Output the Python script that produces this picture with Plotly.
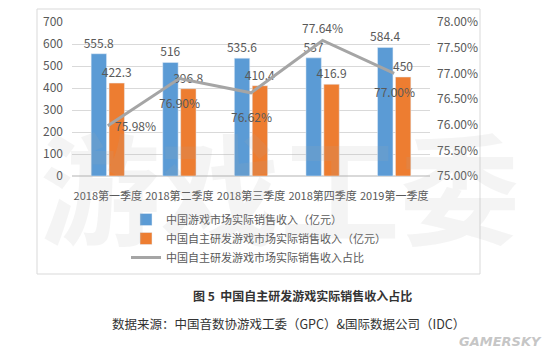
import plotly.graph_objects as go

categories = ["2018第一季度", "2018第二季度", "2018第三季度", "2018第四季度", "2019第一季度"]
total_revenue = [555.8, 516, 535.6, 537, 584.4]
domestic_revenue = [422.3, 396.8, 410.4, 416.9, 450]
domestic_share = [75.98, 76.90, 76.62, 77.64, 77.00]
share_label_pos = ["middle right", "bottom center", "bottom center", "top center", "bottom center"]

name_total = "中国游戏市场实际销售收入（亿元）"
name_domestic = "中国自主研发游戏市场实际销售收入（亿元）"
name_share = "中国自主研发游戏市场实际销售收入占比"

FONT = "Noto Sans CJK SC"
TXT = "#595959"

fig = go.Figure()
fig.add_trace(go.Bar(
    x=categories, y=total_revenue, name=name_total,
    marker_color="#5b9bd5",
    text=[f"{v:g}" for v in total_revenue], textposition="outside",
    constraintext="none",
    textfont=dict(size=12, color=TXT), cliponaxis=False,
))
fig.add_trace(go.Bar(
    x=categories, y=domestic_revenue, name=name_domestic,
    marker_color="#ed7d31",
    text=[f"{v:g}" for v in domestic_revenue], textposition="outside",
    constraintext="none",
    textfont=dict(size=12, color=TXT), cliponaxis=False,
))
fig.add_trace(go.Scatter(
    x=categories, y=domestic_share, name=name_share, yaxis="y2",
    mode="lines", line=dict(color="#a5a5a5", width=3),
    cliponaxis=False,
))

# percentage labels
offsets = {"middle right": (28, 0), "bottom center": (0, -24), "top center": (0, 13)}
for c, v, p in zip(categories, domestic_share, share_label_pos):
    dx, dy = offsets[p]
    if p == "bottom center" and v > 76.95:
        dy = -18
    fig.add_annotation(x=c, y=v, yref="y2", text=f"{v:.2f}%", showarrow=False,
                       xanchor="center", yanchor="middle",
                       xshift=dx, yshift=dy, font=dict(size=12, color=TXT, family=FONT))

def px_to_paper_x(px):
    return (px - 72) / 358

def px_to_paper_y(py):
    return (176 - py) / 154

# chart border
fig.add_shape(type="rect", xref="paper", yref="paper",
              x0=px_to_paper_x(37), x1=px_to_paper_x(480),
              y0=px_to_paper_y(274), y1=px_to_paper_y(9),
              line=dict(color="#d9d9d9", width=1), layer="below")

def note(px, py, text, size, color, family=FONT):
    fig.add_annotation(xref="paper", yref="paper", x=px_to_paper_x(px), y=px_to_paper_y(py),
                       xanchor="center", yanchor="middle",
                       text=text, showarrow=False,
                       font=dict(size=size, color=color, family=family))

# watermark
note(280, 184, "<b>游戏工委</b>", 120, "rgba(170,170,170,0.13)")
note(302, 295, "<b>图 5  中国自主研发游戏实际销售收入占比</b>", 12, "#333333")
note(288, 323, "数据来源：中国音数协游戏工委（GPC）&国际数据公司（IDC）", 12.5, "#333333")
note(500, 342, "<b><i>GAMERSKY</i></b>", 13, "rgba(190,190,190,0.9)", "DejaVu Sans")

fig.update_layout(
    width=550, height=360,
    margin=dict(l=64, r=128, t=14, b=192, autoexpand=False),
    paper_bgcolor="white", plot_bgcolor="white",
    font=dict(family=FONT, color=TXT, size=12),
    barmode="group", bargap=0.5, bargroupgap=0.14,
    showlegend=True,
    legend=dict(x=px_to_paper_x(126), y=px_to_paper_y(205), xanchor="left", yanchor="top",
                orientation="v", font=dict(size=11, color=TXT, family=FONT),
                itemwidth=30, tracegroupgap=2, bgcolor="rgba(0,0,0,0)"),
    xaxis=dict(showgrid=False, showline=False, ticks="", tickangle=0, automargin=False,
               tickfont=dict(size=11, color=TXT), ticklabelstandoff=12),
    yaxis=dict(range=[0, 700], dtick=100, showgrid=True, gridcolor="#d9d9d9",
               zeroline=True, zerolinecolor="#d9d9d9", tickfont=dict(size=12, color=TXT),
               ticklabelstandoff=8, automargin=False),
    yaxis2=dict(overlaying="y", side="right", range=[75, 78], dtick=0.5,
                ticksuffix="%", tickformat=".2f", showgrid=False, zeroline=False,
                tickfont=dict(size=12, color=TXT), ticklabelstandoff=6, automargin=False),
)

fig.write_html("out.html")
